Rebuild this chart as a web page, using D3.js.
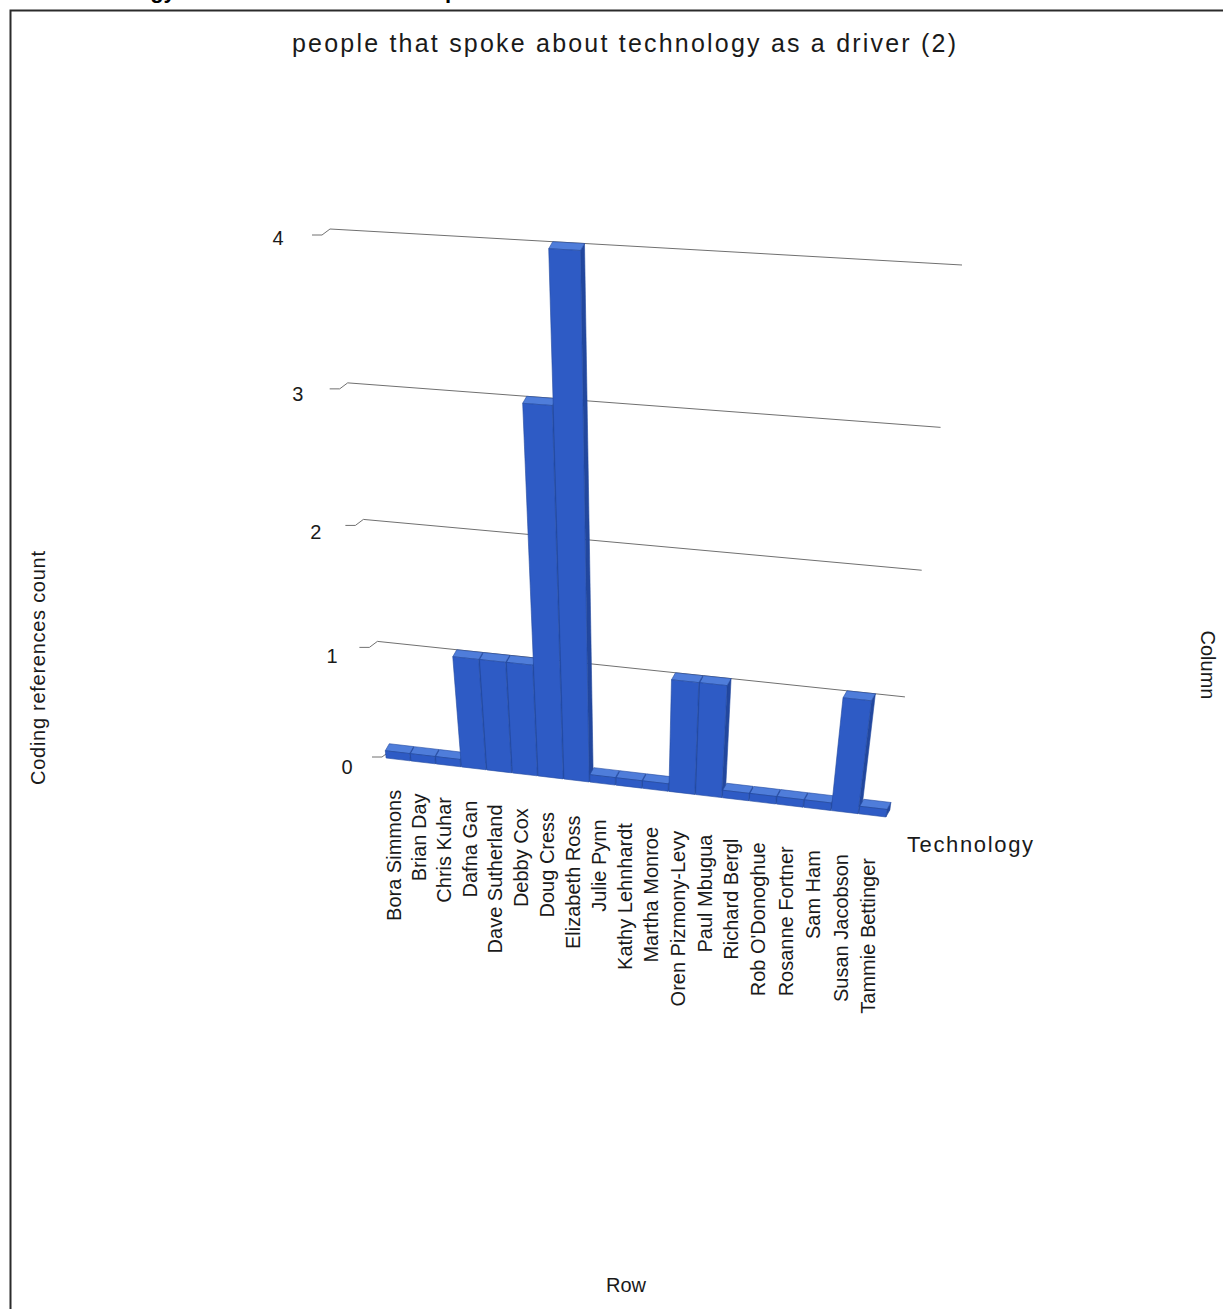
<!DOCTYPE html>
<html><head><meta charset="utf-8">
<script src="https://cdn.jsdelivr.net/npm/d3@7"></script>
<style>body{margin:0;background:#fff} svg{display:block;font-family:"Liberation Sans",Arial,sans-serif}</style>
</head><body><svg id="c" width="1223" height="1309"></svg>
<script>
const categories = ["Bora Simmons","Brian Day","Chris Kuhar","Dafna Gan","Dave Sutherland","Debby Cox","Doug Cress","Elizabeth Ross","Julie Pynn","Kathy Lehnhardt","Martha Monroe","Oren Pizmony-Levy","Paul Mbugua","Richard Bergl","Rob O'Donoghue","Rosanne Fortner","Sam Ham","Susan Jacobson","Tammie Bettinger"];
const values = [0,0,0,1,1,1,3,4,0,0,0,1,1,0,0,0,0,1,0];
const yTicks = [0,1,2,3,4];
const seriesName = "Technology";
const chartTitle = "people that spoke about technology as a driver (2)";
const yAxisTitle = "Coding references count";
const xAxisTitle = "Row";
const zAxisTitle = "Column";
const pageHeading = ["Technology as a driver", "per"];

const svg = d3.select("#c");

// perspective wall (back plane) corners: (s,t) unit square -> screen
const wallQuad = [[390,751],[890,810],[962,265],[330,229]]; // (0,0),(1,0),(1,1),(0,1)
function homography(q){
  const [x0,y0]=q[0],[x1,y1]=q[1],[x2,y2]=q[2],[x3,y3]=q[3];
  const dx1=x1-x2, dy1=y1-y2, dx2=x3-x2, dy2=y3-y2;
  const dx3=x0-x1+x2-x3, dy3=y0-y1+y2-y3;
  const den=dx1*dy2-dx2*dy1;
  const g=(dx3*dy2-dx2*dy3)/den, h=(dx1*dy3-dx3*dy1)/den;
  const a=x1-x0+g*x1, b=x3-x0+h*x3, c=x0;
  const d=y1-y0+g*y1, e=y3-y0+h*y3, f=y0;
  return (s,t)=>{const w=g*s+h*t+1;return [(a*s+b*t+c)/w,(d*s+e*t+f)/w];};
}
const H = homography(wallQuad);
const depth = [-4, 7];        // back -> front offset of bars
const wallDepth = [-8, 6];    // left wall kink
const minBar = 0.07;          // visual thickness of zero bars

const xBand = d3.scaleBand().domain(categories).range([0,1]).paddingInner(0.03).paddingOuter(0.005);
const yLin = d3.scaleLinear().domain([0,4]).range([0,1]);

// border frame
svg.append("path").attr("d","M10.5,1309V10.5H1223").attr("fill","none").attr("stroke","#2b2b2b").attr("stroke-width",2);

// clipped page heading (only descenders visible)
const ph = svg.append("text").attr("x",54).attr("y",-2).attr("font-weight","bold").attr("font-size",22).attr("fill","#000");
ph.append("tspan").text(pageHeading[0]);
ph.append("tspan").attr("x",445).text(pageHeading[1]);

// title
svg.append("text").attr("x",624).attr("y",52).attr("text-anchor","middle").attr("font-size",25)
  .attr("textLength",664).attr("lengthAdjust","spacing").attr("fill","#1a1a1a").text(chartTitle);

// gridlines
const add=(p,o)=>[p[0]+o[0],p[1]+o[1]];
yTicks.forEach(tv=>{
  const t=yLin(tv);
  const bl=H(0,t), br=H(1,t);
  const k=add(bl,wallDepth), ts=add(k,[-10,0]);
  svg.append("path").attr("d",d3.line()([ts,k,bl,br])).attr("fill","none").attr("stroke","#707070").attr("stroke-width",1);
  svg.append("text").attr("x",ts[0]-25-9*t).attr("y",ts[1]+10-7*t).attr("dy","0.35em").attr("text-anchor","middle")
    .attr("font-size",20).attr("fill","#1a1a1a").text(tv);
});

// bars
const gBars = svg.append("g");
categories.forEach((cat,i)=>{
  const s0=xBand(cat), s1=s0+xBand.bandwidth();
  const t=yLin(Math.max(values[i],minBar));
  const BLB=H(s0,0), BRB=H(s1,0), BLT=H(s0,t), BRT=H(s1,t);
  const FLB=add(BLB,depth), FRB=add(BRB,depth), FLT=add(BLT,depth), FRT=add(BRT,depth);
  const poly=(pts,fill)=>gBars.append("path").attr("d","M"+pts.map(p=>p.join(",")).join("L")+"Z")
     .attr("fill",fill).attr("stroke","#2449a0").attr("stroke-width",0.6).attr("stroke-linejoin","round");
  poly([FRB,BRB,BRT,FRT],"#22479e");
  poly([BLT,BRT,FRT,FLT],"#4f7dda");
  poly([FLB,FRB,FRT,FLT],"#2e5bc5");
});

// category labels
categories.forEach((cat,i)=>{
  const sc=xBand(cat)+xBand.bandwidth()/2;
  const p=add(H(sc,0),depth);
  const x=p[0]-4, y=p[1]+30+13*sc;
  svg.append("text").attr("transform",`translate(${x},${y}) rotate(-90)`).attr("dy","0.35em")
    .attr("text-anchor","end").attr("font-size",20).attr("fill","#1a1a1a").text(cat);
});

// series label
svg.append("text").attr("x",907).attr("y",852).attr("font-size",22).attr("textLength",126).attr("lengthAdjust","spacing")
  .attr("fill","#1a1a1a").text(seriesName);

// axis titles
svg.append("text").attr("transform","translate(45,668) rotate(-90)").attr("text-anchor","middle").attr("font-size",20)
  .attr("textLength",234).attr("lengthAdjust","spacing").attr("fill","#1a1a1a").text(yAxisTitle);
svg.append("text").attr("transform","translate(1201,665) rotate(90)").attr("text-anchor","middle").attr("font-size",20)
  .attr("fill","#1a1a1a").text(zAxisTitle);
svg.append("text").attr("x",626).attr("y",1292).attr("text-anchor","middle").attr("font-size",20)
  .attr("fill","#1a1a1a").text(xAxisTitle);
</script></body></html>
